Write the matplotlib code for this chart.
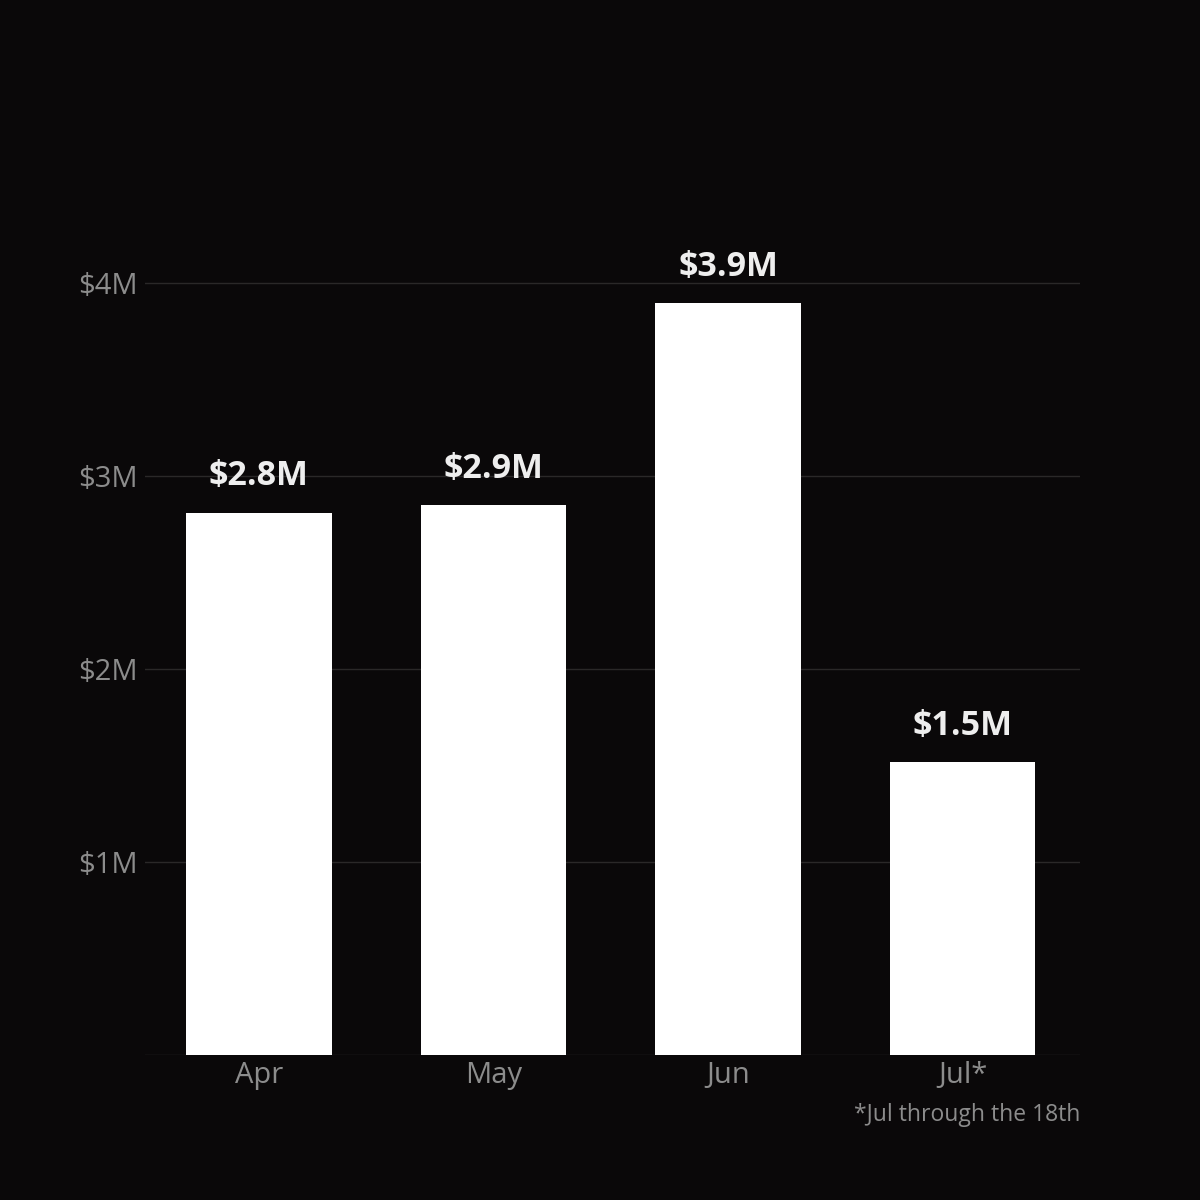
import matplotlib.pyplot as plt
from matplotlib.ticker import FixedLocator

months = ["Apr", "May", "Jun", "Jul*"]
revenue = [2.81, 2.85, 3.896, 1.518]  # $M
value_labels = ["$2.8M", "$2.9M", "$3.9M", "$1.5M"]
yticks = [1, 2, 3, 4]
ytick_labels = ["$1M", "$2M", "$3M", "$4M"]
footnote = "*Jul through the 18th"

bg = "#0a0809"
plt.rcParams["font.family"] = ["Open Sans", "DejaVu Sans"]

fig = plt.figure(figsize=(12, 12), dpi=100, facecolor=bg)
ax = fig.add_axes([145 / 1200, 145 / 1200, 935 / 1200, 855 / 1200], facecolor=bg)

x = range(len(months))
bars = ax.bar(x, revenue, width=0.62, color="white", zorder=3)

ax.set_xlim(-0.485, len(months) - 0.5)
ax.set_ylim(0, 855 / 193)
ax.yaxis.set_major_locator(FixedLocator(yticks))
ax.set_yticklabels(ytick_labels)
ax.set_xticks(list(x))
ax.set_xticklabels(months)
ax.tick_params(axis="both", length=0, labelsize=21, colors="#8c8c8c")
ax.tick_params(axis="y", pad=5)
ax.tick_params(axis="x", pad=4.5)

ax.grid(axis="y", color="#2a2828", linewidth=1, zorder=0)
ax.axhline(0, color="#2a2828", linewidth=1, zorder=1)
for s in ax.spines.values():
    s.set_visible(False)

for b, lab in zip(bars, value_labels):
    ax.annotate(lab, (b.get_x() + b.get_width() / 2, b.get_height()),
                xytext=(0, 14), textcoords="offset points",
                ha="center", va="bottom", fontsize=24.5, fontweight="bold",
                color="#eeeeee")

fig.text(1080 / 1200, 1 - 1115 / 1200, footnote, ha="right", va="center",
         fontsize=16.5, color="#8c8c8c")

fig.savefig("out.png", facecolor=bg)
